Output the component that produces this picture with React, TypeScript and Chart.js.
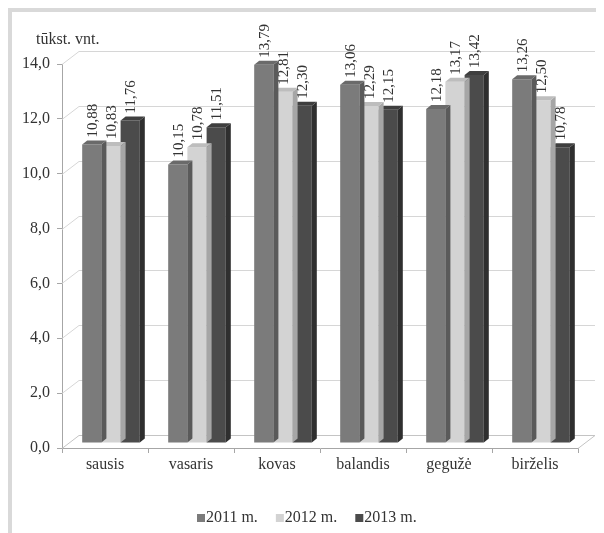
import React, { useEffect, useRef } from 'react';
import { Chart, registerables } from 'chart.js';
Chart.register(...registerables);

const categories = ['sausis', 'vasaris', 'kovas', 'balandis', 'gegužė', 'birželis'];
const seriesNames = ['2011 m.', '2012 m.', '2013 m.'];
const values2011 = [10.88, 10.15, 13.79, 13.06, 12.18, 13.26];
const values2012 = [10.83, 10.78, 12.81, 12.29, 13.17, 12.5];
const values2013 = [11.76, 11.51, 12.3, 12.15, 13.42, 10.78];
const yMin = 0;
const yMax = 14;
const yStep = 2;
const yTitle = 'tūkst. vnt.';

const frontColors = ['#7b7b7b', '#d3d3d3', '#4b4b4b'];
const sideColors = ['#5a5a5a', '#a6a6a6', '#2f2f2f'];
const topColors = ['#6a6a6a', '#bdbdbd', '#3f3f3f'];

const FONT = 'Liberation Serif, Times New Roman, serif';
const TEXT = '#333333';
const AXIS = '#a6a6a6';
const GRID = '#d6d6d6';
const WDX = 17, WDY = -13; // wall depth
const BDX = 6, BDY = -5; // bar offset in depth
const FDX = 5, FDY = -4; // bar own depth

const fmt = (v: number) => v.toFixed(2).replace('.', ',');

const threeD = {
  id: 'threeD',
  beforeDatasetsDraw(chart: any) {
    const { ctx, chartArea: a, scales } = chart;
    const y = scales.y;
    ctx.save();
    ctx.lineWidth = 1;
    ctx.strokeStyle = GRID;
    y.ticks.forEach((t: any, i: number) => {
      if (t.value === 0) return;
      const py = Math.round(y.getPixelForTick(i)) + 0.5;
      ctx.beginPath();
      ctx.moveTo(a.left, py);
      ctx.lineTo(a.left + WDX, py + WDY);
      ctx.lineTo(a.right + WDX, py + WDY);
      ctx.stroke();
    });
    const fb = Math.round(a.bottom) + 0.5;
    ctx.strokeStyle = '#c4c4c4';
    ctx.beginPath();
    ctx.moveTo(a.left, fb);
    ctx.lineTo(a.left + WDX, fb + WDY);
    ctx.lineTo(a.right + WDX, fb + WDY);
    ctx.lineTo(a.right, fb);
    ctx.stroke();
    ctx.fillStyle = TEXT;
    ctx.font = `16px ${FONT}`;
    ctx.textAlign = 'left';
    ctx.textBaseline = 'middle';
    ctx.fillText(yTitle, 24, 28);
    ctx.restore();
    ctx.save();
    ctx.translate(BDX, BDY);
  },
  afterDatasetDraw(chart: any, args: any) {
    const { ctx } = chart;
    const di = args.index;
    args.meta.data.forEach((el: any) => {
      const l = el.x - el.width / 2;
      const r = el.x + el.width / 2;
      const t = el.y;
      const b = el.base;
      ctx.fillStyle = sideColors[di];
      ctx.beginPath();
      ctx.moveTo(r, t);
      ctx.lineTo(r + FDX, t + FDY);
      ctx.lineTo(r + FDX, b + FDY);
      ctx.lineTo(r, b);
      ctx.closePath();
      ctx.fill();
      ctx.fillStyle = topColors[di];
      ctx.beginPath();
      ctx.moveTo(l, t);
      ctx.lineTo(l + FDX, t + FDY);
      ctx.lineTo(r + FDX, t + FDY);
      ctx.lineTo(r, t);
      ctx.closePath();
      ctx.fill();
    });
  },
  afterDatasetsDraw(chart: any) {
    const { ctx } = chart;
    ctx.restore();
    ctx.save();
    ctx.fillStyle = TEXT;
    ctx.font = `15px ${FONT}`;
    ctx.textAlign = 'left';
    ctx.textBaseline = 'middle';
    chart.data.datasets.forEach((ds: any, di: number) => {
      const meta = chart.getDatasetMeta(di);
      meta.data.forEach((el: any, i: number) => {
        const cx = el.x + BDX + 1;
        const cy = el.y + BDY + FDY - 3;
        ctx.save();
        ctx.translate(cx, cy);
        ctx.rotate(-Math.PI / 2);
        ctx.fillText(fmt(ds.data[i]), 0, 0);
        ctx.restore();
      });
    });
    ctx.restore();
  },
  afterDraw(chart: any) {
    const { ctx } = chart;
    ctx.save();
    ctx.font = `16px ${FONT}`;
    ctx.textAlign = 'left';
    ctx.textBaseline = 'middle';
    let x = 185;
    const yc = 506;
    chart.data.datasets.forEach((ds: any, di: number) => {
      ctx.fillStyle = frontColors[di];
      ctx.fillRect(x, yc - 4, 8, 8);
      ctx.fillStyle = TEXT;
      ctx.fillText(ds.label, x + 9, yc);
      x += 9 + ctx.measureText(ds.label).width + 18;
    });
    ctx.restore();
  },
};

export default function App() {
  const ref = useRef<HTMLCanvasElement>(null);
  useEffect(() => {
    const font = { family: FONT, size: 16 };
    const chart = new Chart(ref.current as HTMLCanvasElement, {
      type: 'bar',
      data: {
        labels: categories,
        datasets: [values2011, values2012, values2013].map((d, i) => ({
          label: seriesNames[i],
          data: d,
          backgroundColor: frontColors[i],
          borderWidth: 0,
          categoryPercentage: 0.67,
          barPercentage: 1,
          clip: false as any,
        })),
      },
      options: {
        animation: false,
        responsive: false,
        layout: { padding: { left: 0, right: 26, top: 52, bottom: 45 } },
        plugins: {
          legend: { display: false },
          tooltip: { enabled: false },
        },
        scales: {
          x: {
            grid: { display: true, drawOnChartArea: false, drawTicks: true, tickLength: 5, color: AXIS, offset: true },
            border: { display: true, color: AXIS },
            ticks: { color: TEXT, font, padding: 2, maxRotation: 0, autoSkip: false },
            afterFit: (s: any) => { s.height = 40; },
          },
          y: {
            min: yMin,
            max: yMax,
            ticks: {
              stepSize: yStep,
              color: TEXT,
              font,
              padding: 7,
              callback: (v: any) => Number(v).toFixed(1).replace('.', ','),
            },
            grid: { display: true, drawOnChartArea: false, drawTicks: true, tickLength: 5, color: AXIS },
            border: { display: true, color: AXIS },
            afterFit: (s: any) => { s.width = 50; },
          },
        },
      },
      plugins: [threeD],
    } as any);
    return () => chart.destroy();
  }, []);
  return (
    <div style={{ width: 596, height: 525, borderTop: '4px solid #d9d9d9', borderLeft: '4px solid #d9d9d9', boxSizing: 'border-box', background: '#fff' }}>
      <canvas ref={ref} width={592} height={521} style={{ display: 'block' }} />
    </div>
  );
}
